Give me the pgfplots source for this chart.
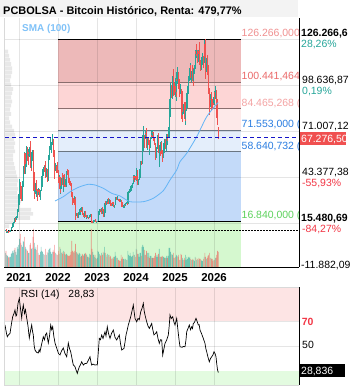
\documentclass[border=0pt]{standalone}
\usepackage{pgfplots}
\pgfplotsset{compat=1.18}
\usepackage{pgfplotstable}
\usepackage{fontspec}
\setmainfont{Liberation Sans}
\definecolor{upc}{HTML}{26A69A}
\definecolor{dnc}{HTML}{EF5350}
\definecolor{bandA}{HTML}{EDB9B9}
\definecolor{bandB}{HTML}{FDD5D5}
\definecolor{bandC}{HTML}{FDE9E9}
\definecolor{bandD}{HTML}{E4EEFB}
\definecolor{bandE}{HTML}{C3DAF9}
\definecolor{bandF}{HTML}{D5F8CF}
\definecolor{smac}{HTML}{64B5F6}
\definecolor{smalbl}{HTML}{80C2F8}
\definecolor{fibred}{HTML}{8A6E6E}
\definecolor{fibblue}{HTML}{6B7682}
\definecolor{lblA}{HTML}{F09090}
\definecolor{lblB}{HTML}{EB6A6A}
\definecolor{lblC}{HTML}{F4A3A3}
\definecolor{lblD}{HTML}{2A7DE1}
\definecolor{lblF}{HTML}{5CD25C}
\definecolor{pctg}{HTML}{26A69A}
\definecolor{pctr}{HTML}{F23645}
\definecolor{curr}{HTML}{F05050}
\definecolor{dashb}{HTML}{1515C8}
\definecolor{rsipink}{HTML}{FDE4E4}
\definecolor{rsigreen}{HTML}{E3FBE0}
\definecolor{titlebg}{HTML}{F3F3F3}
\newcommand{\fs}[1]{\fontsize{#1}{#1}\selectfont}

% weekly candles, Aug 2020 - Feb 2026, prices in thousands
\pgfplotstableread{
o h l c v
11.60 11.80 11.15 11.70 14
11.70 12.05 9.90 10.30 16
10.30 10.75 9.90 10.70 12
10.70 11.10 10.25 10.90 11
10.90 10.95 10.20 10.75 10
10.75 10.95 10.40 10.65 9
10.65 11.50 10.55 11.40 10
11.40 11.75 11.20 11.50 10
11.50 13.20 11.40 13.10 13
13.10 14.05 12.90 13.80 14
13.80 15.95 13.20 15.50 16
15.50 16.35 14.85 16.00 14
16.00 18.80 15.80 18.70 17
18.70 19.40 16.20 18.20 19
18.20 19.90 18.00 19.20 15
19.20 19.45 17.60 19.25 12
19.25 24.30 19.00 23.90 20
23.90 26.90 22.40 26.50 18
26.50 33.30 26.40 33.00 22
33.00 41.90 28.10 38.20 28
38.20 40.10 30.40 36.00 33
36.00 37.80 28.90 32.30 24
32.30 38.50 29.20 34.30 22
34.30 40.90 32.30 39.30 20
39.30 49.70 37.40 48.60 26
48.60 58.30 47.10 57.50 25
57.50 57.60 44.90 45.20 30
45.20 52.60 45.00 51.00 20
51.00 61.70 49.30 59.90 18
59.90 61.20 53.20 57.40 17
57.40 58.40 50.40 55.80 16
55.80 60.10 55.00 57.10 14
57.10 61.20 55.50 60.00 14
60.00 64.80 51.20 56.20 22
56.20 57.00 47.00 49.00 24
49.00 58.40 48.80 57.80 18
57.80 59.50 53.00 58.20 19
58.20 59.60 43.80 46.40 30
46.40 46.60 30.00 34.80 38
34.80 40.80 31.20 35.70 24
35.70 39.50 33.40 35.80 18
35.80 41.30 31.10 39.10 20
39.10 41.30 34.90 35.50 17
35.50 36.00 28.80 34.70 22
34.70 36.50 32.70 35.30 14
35.30 35.90 32.10 34.20 12
34.20 34.60 31.10 31.80 12
31.80 35.50 29.30 35.40 15
35.40 42.60 35.20 39.90 20
39.90 44.80 37.50 43.80 16
43.80 48.10 42.80 47.10 15
47.10 49.40 43.90 49.30 13
49.30 50.50 46.40 48.80 12
48.80 51.00 46.50 49.90 12
49.90 52.90 42.80 45.20 18
45.20 48.80 43.40 48.30 12
48.30 48.40 40.10 42.70 15
42.70 49.20 40.80 48.20 14
48.20 56.50 47.30 54.90 17
54.90 62.00 53.80 60.90 18
60.90 67.00 59.80 61.30 19
61.30 63.70 57.90 61.80 15
61.80 64.20 59.50 63.30 13
63.30 69.00 62.30 65.50 15
65.50 66.30 55.60 59.70 17
59.70 59.80 53.60 57.20 15
57.20 59.10 42.00 49.40 22
49.40 51.90 46.80 50.10 14
50.10 50.20 45.60 46.70 13
46.70 51.90 45.60 50.80 12
50.80 52.10 45.70 47.30 12
47.30 47.60 39.70 41.80 16
41.80 44.40 39.70 43.10 13
43.10 43.50 34.00 36.30 20
36.30 38.90 32.90 38.20 18
38.20 42.60 36.30 42.40 14
42.40 45.80 41.70 42.20 15
42.20 44.60 38.00 38.40 13
38.40 44.20 34.30 43.20 16
43.20 45.40 37.60 38.40 15
38.40 42.40 37.20 37.80 13
37.80 42.30 37.60 42.20 12
42.20 46.90 40.90 46.80 13
46.80 48.20 44.80 46.40 12
46.40 47.40 41.90 42.20 11
42.20 42.40 39.20 39.70 11
39.70 42.90 38.60 39.50 11
39.50 40.80 37.70 38.50 12
38.50 40.00 33.70 34.30 15
34.30 34.40 26.70 31.30 26
31.30 31.40 28.70 29.40 16
29.40 30.60 28.00 29.30 15
29.30 32.20 29.20 29.90 14
29.90 31.60 26.60 26.70 16
26.70 26.80 17.60 20.60 23
20.60 21.90 19.70 21.00 15
21.00 21.50 18.80 19.30 14
19.30 22.40 19.20 20.80 13
20.80 21.60 18.90 20.85 12
20.85 24.20 20.80 22.60 14
22.60 24.60 20.70 23.30 13
23.30 23.60 22.40 23.20 10
23.20 25.20 22.70 24.40 11
24.40 25.10 20.80 21.50 13
21.50 21.80 19.60 20.00 12
20.00 20.60 19.50 19.80 11
19.80 22.70 18.50 21.80 13
21.80 22.70 19.60 20.10 14
20.10 20.30 18.20 18.80 13
18.80 20.40 18.50 19.30 12
19.30 20.40 19.00 19.40 10
19.40 19.50 18.20 19.20 10
19.20 19.70 18.90 19.60 9
19.60 21.00 19.20 20.60 13
20.60 21.40 20.10 21.20 12
21.20 21.40 15.60 16.30 38
16.40 17.10 15.80 16.30 18
16.30 16.70 15.50 16.50 15
16.50 17.40 16.00 17.10 12
17.10 17.40 16.90 17.15 10
17.15 18.40 16.50 16.80 12
16.80 16.90 16.40 16.85 9
16.85 16.90 16.50 16.60 8
16.60 17.20 16.50 17.10 9
17.10 21.30 17.10 20.90 16
20.90 23.10 20.40 22.70 15
22.70 23.90 22.30 23.70 13
23.70 24.20 22.40 22.90 12
22.90 23.20 21.40 21.80 11
21.80 25.20 21.40 24.60 14
24.60 25.20 23.10 23.60 12
23.60 23.90 19.60 20.50 15
20.50 22.80 19.60 22.10 14
22.10 28.40 21.90 28.00 20
28.00 29.10 26.60 27.90 14
27.90 29.20 26.50 28.50 12
28.50 28.80 27.30 28.30 10
28.30 31.00 28.20 30.30 13
30.30 30.50 27.20 27.60 12
27.60 30.00 26.90 29.20 12
29.20 29.80 27.70 28.80 10
28.80 28.90 25.90 26.80 11
26.80 27.50 26.40 26.70 8
26.70 28.30 26.10 28.10 9
28.10 28.40 26.60 27.10 8
27.10 27.20 25.40 25.90 10
25.90 26.80 24.80 26.30 10
26.30 31.40 26.30 30.50 15
30.50 31.30 29.50 30.60 11
30.60 31.40 29.70 30.20 9
30.20 31.80 29.90 30.25 9
30.25 30.40 29.60 29.90 7
29.90 30.00 28.90 29.30 7
29.30 29.80 28.60 29.00 6
29.00 30.20 28.80 29.40 6
29.40 29.60 25.20 26.10 12
26.10 26.80 25.60 26.00 8
26.00 28.10 25.40 25.80 10
25.80 26.40 24.90 26.20 8
26.20 27.40 24.90 26.50 8
26.50 27.40 26.00 26.20 7
26.20 28.00 26.00 27.90 8
27.90 28.60 27.20 27.95 7
27.95 28.00 26.60 27.00 7
27.00 35.00 26.90 34.50 16
34.50 35.10 33.40 34.55 12
34.55 35.90 33.90 35.00 11
35.00 38.00 34.60 37.10 14
37.10 37.90 34.80 37.40 11
37.40 38.40 35.70 37.45 10
37.45 39.70 36.90 39.50 11
39.50 44.50 39.30 43.80 15
43.80 43.90 40.20 41.40 12
41.40 44.30 40.50 43.00 12
43.00 43.80 41.50 42.30 10
42.30 48.90 40.80 43.90 18
43.90 47.60 41.50 41.70 17
41.70 43.20 38.60 41.60 13
41.60 42.20 38.50 42.00 13
42.00 43.80 41.80 42.60 10
42.60 48.60 42.50 48.30 14
48.30 52.80 48.20 52.10 14
52.10 52.90 50.60 51.70 11
51.70 64.00 50.90 63.10 20
63.10 69.00 59.00 68.40 22
68.30 73.80 64.50 68.40 20
68.40 68.90 60.80 67.20 17
67.20 71.70 66.50 69.70 12
69.70 72.70 64.50 69.40 12
69.40 72.80 60.80 63.90 16
63.90 66.90 59.70 64.90 14
64.90 67.20 62.40 63.10 10
63.10 64.70 56.60 64.00 14
64.00 65.50 60.20 61.50 9
61.50 67.40 60.70 67.00 11
67.00 71.90 66.40 68.50 11
68.50 70.60 66.70 67.80 9
67.80 71.90 67.30 69.60 9
69.60 70.20 65.10 66.20 9
66.20 66.90 63.10 63.20 9
63.20 63.80 58.50 62.70 11
62.70 63.70 53.50 58.00 14
58.00 61.40 55.00 60.80 10
60.80 68.40 59.90 68.20 12
68.20 69.40 63.40 68.30 10
68.30 70.00 57.80 58.10 13
58.10 62.70 49.10 58.70 18
58.70 61.80 56.10 58.40 10
58.40 65.00 57.80 64.20 10
64.20 64.50 57.20 57.30 10
57.30 59.80 52.60 54.80 11
54.80 60.60 54.60 59.20 10
59.20 64.10 57.50 63.60 10
63.60 66.40 62.70 65.60 9
65.60 66.00 59.90 62.80 9
62.80 64.50 58.90 62.90 9
62.90 69.50 62.40 69.00 11
69.00 69.50 65.10 68.00 9
68.00 73.60 67.50 69.40 11
69.40 81.50 66.80 80.40 19
80.40 93.50 79.70 90.50 19
90.50 99.60 88.90 98.00 15
98.00 98.80 90.80 97.20 12
97.20 104.00 90.50 101.10 13
101.10 105.20 94.20 104.30 12
104.30 108.40 92.20 95.30 14
95.30 99.90 92.50 93.70 9
93.70 102.70 91.30 98.30 9
98.30 102.50 91.20 94.50 10
94.50 106.30 89.20 101.30 12
101.30 109.60 99.50 104.80 11
104.80 106.40 96.20 97.70 10
97.70 102.50 91.20 96.50 12
96.50 98.80 94.10 96.10 7
96.10 99.50 93.40 96.30 7
96.30 96.50 78.20 94.30 13
94.30 95.00 76.60 80.70 12
80.70 85.30 76.60 82.60 9
82.60 87.40 81.20 86.10 7
86.10 88.70 81.60 82.30 7
82.30 88.50 77.20 78.40 9
78.40 84.10 74.50 83.70 12
83.70 86.40 83.00 85.10 7
85.10 95.70 85.00 94.00 10
94.00 97.90 92.90 94.30 8
94.30 104.30 93.40 104.10 10
104.10 106.60 100.80 106.40 9
106.40 111.90 101.50 109.00 10
109.00 110.40 103.10 105.60 8
105.60 106.80 100.40 105.70 7
105.70 110.60 102.70 105.60 7
105.60 108.90 98.20 100.90 8
100.90 108.50 100.00 108.40 7
108.40 110.50 105.00 109.20 6
109.20 119.50 108.10 119.10 10
119.10 123.20 115.80 117.30 9
117.30 120.20 114.60 119.40 7
119.40 119.90 112.00 114.20 8
114.20 119.40 112.70 119.30 7
119.30 124.50 116.90 117.40 9
117.40 117.60 110.80 113.50 8
113.50 113.60 107.30 108.30 8
108.30 113.40 107.50 111.20 7
111.20 116.80 110.60 115.30 6
115.30 117.90 114.80 115.70 6
115.70 115.80 108.70 112.20 8
112.20 125.70 111.60 123.50 10
123.50 126.20 102.00 115.20 14
115.20 115.90 103.50 108.70 10
108.70 114.70 106.70 114.60 8
114.60 116.40 106.30 110.60 9
110.60 110.90 98.90 104.70 11
104.70 107.50 93.00 94.40 12
94.40 96.60 80.60 86.90 14
86.90 93.00 85.30 90.40 9
90.40 94.20 83.80 90.30 9
90.30 94.50 87.60 88.30 8
88.30 90.50 84.50 88.10 8
88.10 90.40 86.50 87.80 6
87.80 94.80 86.80 91.50 7
91.50 94.60 89.50 90.50 7
90.50 97.90 90.00 93.60 9
93.60 95.50 87.20 89.00 9
89.00 90.40 77.00 78.60 12
78.60 80.50 74.50 76.00 16
72.50 73.40 66.50 67.28 15
}\btc

\pgfplotsset{
  panel/.style={scale only axis, width=294bp, xmin=5, xmax=299, anchor=south west,
     axis line style={draw=none}, major tick length=0pt,
     xtick=\empty, ytick=\empty},
  mainp/.style={panel, at={(5bp,123bp)}, height=249bp, ymin=-10.672, ymax=138.877},
  rsip/.style={panel, at={(5bp,5bp)}, height=98bp, ymin=18.8, ymax=97.2},
  candle/.style={draw=none, mark=none, forget plot, error bars/.cd, y dir=both, y explicit, error mark=none,
     error bar style={draw=#1}},
}

\begin{document}
\begin{tikzpicture}
\useasboundingbox (0,0) rectangle (353bp,390bp);
\begin{scope}[x=1bp, y=1bp]
\fill[white] (0,0) rectangle (353,390);
\fill[titlebg] (0,373) rectangle (298,390);
\node[anchor=base west, inner sep=0pt, font=\bfseries\fs{11}] at (3,376) {PCBOLSA - Bitcoin Histórico, Renta: 479,77\%};
\end{scope}

% ---------- main panel: zones + grid ----------
\begin{axis}[mainp, axis on top,
  xtick={19,58,97,136,175,214}, xticklabels={2021,2022,2023,2024,2025,2026},
  xticklabel style={font=\bfseries\fs{11.5}, anchor=center, yshift=-11bp},
  ytick={15.48069,43.37738,71.00712,98.63687,126.2666}, yticklabels={},
  grid=major, grid style={black, opacity=0.1, line width=0.6bp}]
\addplot[fill=bandA, draw=none] coordinates {(58,100.441464) (241,100.441464) (241,126.266) (58,126.266)} -- cycle;
\addplot[fill=bandB, draw=none] coordinates {(58,84.465268) (241,84.465268) (241,100.441464) (58,100.441464)} -- cycle;
\addplot[fill=bandC, draw=none] coordinates {(58,71.553) (241,71.553) (241,84.465268) (58,84.465268)} -- cycle;
\addplot[fill=bandD, draw=none] coordinates {(58,58.640732) (241,58.640732) (241,71.553) (58,71.553)} -- cycle;
\addplot[fill=bandE, draw=none] coordinates {(58,16.84) (241,16.84) (241,58.640732) (58,58.640732)} -- cycle;
\addplot[fill=bandF, draw=none] coordinates {(58,-10.672) (241,-10.672) (241,16.84) (58,16.84)} -- cycle;
\end{axis}

% ---------- volume profile ----------
\begin{axis}[panel, at={(5bp,123bp)}, height=249bp, xmin=0, xmax=294, ymin=-10.672, ymax=138.877]
\addplot[xbar, bar width=2.2, bar shift=0pt, fill=black, fill opacity=0.09, draw=none] coordinates {
(3,118.75) (4,116.25) (5,113.75) (6,111.25) (7,108.75) (7,106.25) (6,103.75) (5,101.25)
(6,98.75) (8,96.25) (7,93.75) (6,91.25) (7,88.75) (6,86.25) (5,83.75) (6,81.25)
(4,78.75) (5,76.25) (7,73.75) (9,71.25) (10,68.75) (9,66.25) (10,63.75) (9,61.25)
(10,58.75) (8,56.25) (8,53.75) (9,51.25) (10,48.75) (11,46.25) (12,43.75) (13,41.25)
(12,38.75) (13,36.25) (12,33.75) (14,31.25) (16,28.75) (15,26.25) (26,23.75) (28,21.25)
(25,18.75) (10,16.25) (4,13.75)};
\end{axis}

% ---------- volume ----------
\begin{axis}[panel, at={(5bp,123bp)}, height=249bp, ymin=0, ymax=249]
\addplot[ybar, bar width=0.6, bar shift=0pt, fill=upc, fill opacity=0.6, draw=none]
  table[x expr=5.25+\coordindex*0.7475, y expr={\thisrow{c}<\thisrow{o} ? nan : \thisrow{v}}] {\btc};
\addplot[ybar, bar width=0.6, bar shift=0pt, fill=dnc, fill opacity=0.6, draw=none]
  table[x expr=5.25+\coordindex*0.7475, y expr={\thisrow{c}<\thisrow{o} ? \thisrow{v} : nan}] {\btc};
\end{axis}

% ---------- price ----------
\begin{axis}[mainp]
\addplot[black, line width=0.8bp] coordinates {(58,126.266) (241,126.266)};
\addplot[fibred, line width=0.8bp] coordinates {(58,100.441464) (241,100.441464)};
\addplot[fibred, line width=0.8bp] coordinates {(58,84.465268) (241,84.465268)};
\addplot[fibblue, line width=0.8bp] coordinates {(58,71.553) (241,71.553)};
\addplot[fibblue, line width=0.8bp] coordinates {(58,58.640732) (241,58.640732)};
\addplot[black, line width=0.8bp] coordinates {(58,16.84) (241,16.84)};
\addplot[black, line width=0.6bp, dash pattern=on 1.5bp off 1.5bp] coordinates {(5,11.604) (299,11.604)};
% wicks
\addplot[candle={upc, line width=0.3bp}]
  table[x expr=5.25+\coordindex*0.7475, y expr={\thisrow{c}<\thisrow{o} ? nan : 0.5*(\thisrow{h}+\thisrow{l})},
        y error expr={0.5*(\thisrow{h}-\thisrow{l})}] {\btc};
\addplot[candle={dnc, line width=0.3bp}]
  table[x expr=5.25+\coordindex*0.7475, y expr={\thisrow{c}<\thisrow{o} ? 0.5*(\thisrow{h}+\thisrow{l}) : nan},
        y error expr={0.5*(\thisrow{h}-\thisrow{l})}] {\btc};
% bodies
\addplot[candle={upc, line width=0.8bp}]
  table[x expr=5.25+\coordindex*0.7475, y expr={\thisrow{c}<\thisrow{o} ? nan : 0.5*(\thisrow{o}+\thisrow{c})},
        y error expr={0.5*abs(\thisrow{c}-\thisrow{o})}] {\btc};
\addplot[candle={dnc, line width=0.8bp}]
  table[x expr=5.25+\coordindex*0.7475, y expr={\thisrow{c}<\thisrow{o} ? 0.5*(\thisrow{o}+\thisrow{c}) : nan},
        y error expr={0.5*abs(\thisrow{c}-\thisrow{o})}] {\btc};
% SMA 100
\addplot[smac, line width=0.8bp, smooth, tension=0.4] coordinates {
(55,28.97) (63.3,31.55) (71.7,35.16) (80,37.56) (88.3,39.00) (95,38.58) (103.3,36.60)
(111.7,33.59) (120,31.97) (130,28.55) (143.3,28.55) (153.3,30.59) (163.3,35.16)
(170,41.58) (176.7,47.59) (180,52.57) (186.7,57.62) (196.7,67.59) (206.7,79.60)
(216.7,87.23) (218.3,88.0)};
% current price
\addplot[dashb, line width=0.8bp, dash pattern=on 4bp off 3bp] coordinates {(5,67.2765) (299,67.2765)};
% zone labels
\node[anchor=base west, inner sep=0.5bp, yshift=2.2bp, text=lblA, font=\fs{10.5}] at (axis cs:241,126.266) {126.266,000 (};
\node[anchor=base west, inner sep=0.5bp, yshift=2.2bp, text=lblB, font=\fs{10.5}] at (axis cs:241,100.441464) {100.441,464 (};
\node[anchor=base west, inner sep=0.5bp, yshift=2.2bp, text=lblC, font=\fs{10.5}] at (axis cs:241,84.465268) {84.465,268 (};
\node[anchor=base west, inner sep=0.5bp, yshift=2.2bp, text=lblD, font=\fs{10.5}] at (axis cs:241,71.553) {71.553,000 (};
\node[anchor=base west, inner sep=0.5bp, yshift=2.2bp, text=lblD, font=\fs{10.5}] at (axis cs:241,58.640732) {58.640,732 (};
\node[anchor=base west, inner sep=0.5bp, yshift=2.2bp, text=lblF, font=\fs{10.5}] at (axis cs:241,16.84) {16.840,000 (};
\end{axis}

% ---------- RSI panel ----------
\begin{axis}[rsip, axis on top,
  xtick={19,58,97,136,175,214}, xticklabels={}, ytick={50,70}, yticklabels={},
  grid=major, grid style={black, opacity=0.1, line width=0.6bp}]
\addplot[fill=rsipink, draw=none] coordinates {(5,70) (299,70) (299,97.2) (5,97.2)} -- cycle;
\addplot[fill=rsigreen, draw=none] coordinates {(5,18.8) (299,18.8) (299,30) (5,30)} -- cycle;
\end{axis}
\begin{axis}[rsip]
\addplot[black, line width=0.7bp] coordinates {
(5,66.8) (6.5,60) (7.3,57.4) (8.5,59) (10,60) (11.5,68) (12.7,73.5) (14,76) (15,78.8) (16,74)
(16.7,74.8) (18,84) (19.3,88.1) (20.5,80) (21.7,72.4) (22.5,79) (23.3,82.8) (24.5,76) (25.5,79)
(26.7,72.4) (28,66) (29.3,56.4) (30.5,62) (31.7,66.8) (32.5,62) (33.3,58.8) (34.2,50) (35,46.8)
(36.5,45) (38.3,44.4) (39.2,47) (40,45.4) (41.5,51) (43.3,57.4) (44.5,55) (45.5,59) (46.7,60.4)
(47.5,56) (48.3,52.4) (49.5,58) (50.7,66.8) (51.7,63) (52.7,65.4) (53.8,58) (55,52.4) (56,50)
(57.3,46.8) (58.5,44) (60,42.8) (61.5,46) (63.3,48.4) (65,44) (66.7,41.4) (68.3,52.4) (69.5,48)
(70.7,45.4) (72,40) (73.3,34.8) (75,33.4) (76,31) (77.3,28.1) (78.3,31) (79.3,33.4) (80.5,35)
(81.7,37.4) (83.3,34.8) (85,36) (86.7,36.1) (88,38) (90,41.4) (91,37) (91.7,34.8) (93,35.5)
(95,34.8) (96.5,35) (97.3,34.8) (98.3,45) (99.3,56.1) (100.5,55) (101.7,58.8) (103,56) (105,61.4)
(106,58) (107.3,65.4) (108.5,60) (110,56.1) (111.5,60) (113.3,62.8) (115,57) (116.7,54.8) (118,57)
(119.3,58.8) (120.5,52) (121.7,46.8) (123,47.5) (124,48.1) (125,53) (126,58.8) (127,62) (128.3,66.8)
(129.5,70) (130.7,73.4) (132,78) (133.3,82.8) (134.2,77) (135,72.1) (136.7,69.4) (138,72) (139.3,71)
(140.7,77.4) (142,80) (143.3,84.1) (144.2,78) (145,74.8) (146.7,69.4) (148,66) (149.3,64.1)
(150.5,66) (151.7,68) (152.8,63) (154,58.8) (155.5,60) (156.7,61.4) (158,56) (159.3,52.1) (160.5,55)
(161.7,54.8) (162.7,42.8) (164,48) (165,52.1) (166.7,54.8) (168.3,58.8) (169.2,66) (170,74.8)
(171.3,72) (172.7,73.4) (174,69) (175,66.8) (176,70) (176.7,72.1) (177.5,66) (178.3,60.1) (179.2,54)
(180,49.4) (182,49) (183.5,49.6) (185,49.4) (186,55) (186.7,61.4) (188,64) (189.3,66.8) (190.5,63)
(191.7,65.4) (192.5,64) (193.3,68) (194.5,69) (196,72.1) (197,70) (198.3,66.8) (199.2,67) (200,62.8)
(201.5,60) (203.3,56.1) (204.2,54) (205,52.1) (205.8,48) (206.7,45.4) (208,41) (209.3,37.4)
(210.5,40) (211.7,41.4) (213,43) (214,45.4) (215,44) (216,41.4) (216.7,36) (217.5,31) (218.3,28.8)};
\end{axis}

\begin{scope}[x=1bp, y=1bp]
% cover overflow right of the price panel
\fill[white] (299.4,110) rectangle (353,373);
\node[anchor=base west, inner sep=0pt, text=smalbl, font=\bfseries\fs{10}] at (22,358.4) {SMA (100)};
% frame lines
\draw[black, line width=0.9bp] (4.5,123) -- (299,123);
\draw[black, line width=0.9bp] (299,123) -- (299,372);
\draw[black!15, line width=0.6bp] (4.5,123) -- (4.5,372);
% right price scale
\begin{scope}[every node/.style={anchor=base west, inner sep=0pt, font=\fs{10.5}}]
\node[font=\bfseries\fs{10.5}] at (301,354) {126.266,6};
\node[text=pctg] at (301,342.5) {28,26\%};
\node at (302,306.7) {98.636,87};
\node[text=pctg] at (302,295.7) {0,19\%};
\node at (302,260.2) {71.007,12};
\fill[curr] (299.5,245) rectangle (346,258);
\node[text=white] at (301,247.6) {67.276,50};
\node at (302,215) {43.377,38};
\node[text=pctr] at (302,203.5) {-55,93\%};
\node[font=\bfseries\fs{10.5}] at (301,168.5) {15.480,69};
\node[text=pctr] at (302,157.5) {-84,27\%};
\node at (301,121.2) {-11.882,09};
\end{scope}
% RSI texts and frame
\node[anchor=base west, inner sep=0pt, font=\fs{10.4}] at (20.7,92.3) {RSI (14)};
\node[anchor=base west, inner sep=0pt, font=\fs{10.4}] at (68.3,92.3) {28,83};
\draw[black, line width=0.9bp] (299,5) -- (299,103);
\draw[black!15, line width=0.6bp] (4.5,5) -- (299,5);
\draw[black!15, line width=0.6bp] (4.5,103) -- (299,103);
\draw[black!15, line width=0.6bp] (4.5,5) -- (4.5,103);
\begin{scope}[every node/.style={anchor=base west, inner sep=0pt, font=\fs{10.5}}]
\node[text=pctr, font=\bfseries\fs{10.5}] at (301.7,64.5) {70};
\node at (302,41.2) {50};
\fill[black] (299.5,12.8) rectangle (345,25.7);
\node[text=white] at (301,15.5) {28,836};
\end{scope}
\end{scope}
\end{tikzpicture}
\end{document}
